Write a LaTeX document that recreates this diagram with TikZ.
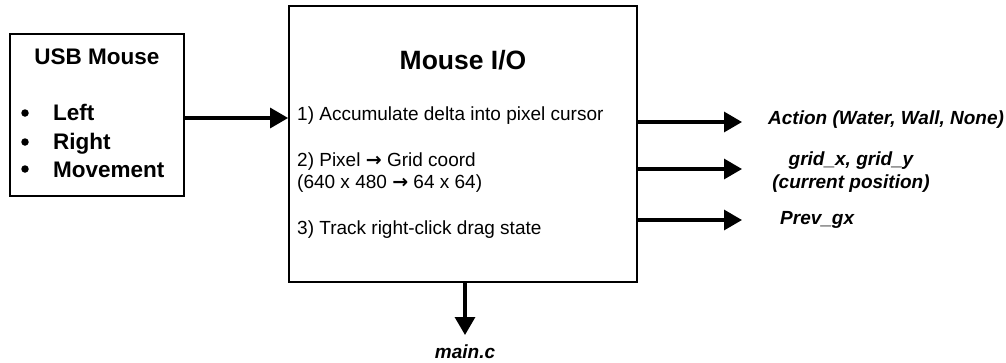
\documentclass[tikz,border=0pt]{standalone}
\usepackage{fontspec}
\setmainfont{Liberation Sans}
\usetikzlibrary{arrows.meta}
\begin{document}
\begin{tikzpicture}[x=1pt,y=-1pt,
  box/.style={draw,line width=1.8pt,inner sep=0pt},
  conn/.style={line width=3.2pt,-{Triangle[length=18pt,width=20pt]}},
  lbl/.style={font=\fontsize{19}{23}\selectfont\bfseries\itshape,inner sep=0pt},
  item/.style={font=\fontsize{19}{22}\selectfont,anchor=west,inner sep=0pt},
  bul/.style={font=\fontsize{22.5}{26}\selectfont\bfseries,anchor=base west,inner sep=0pt},
  dot/.style={circle,fill,inner sep=0pt,minimum size=7.5pt}]
\useasboundingbox (0,0) rectangle (1006,362);
\node[box,minimum width=174pt,minimum height=162pt] (usb) at (97,115) {};
\node[font=\fontsize{22.5}{26}\selectfont\bfseries] (usbt) at (97,57) {USB Mouse};
\node[dot] (b1) at (25,113) {};
\node[dot] (b2) at (25,142) {};
\node[dot] (b3) at (25,169) {};
\node[bul] (l1) at (53,120) {Left};
\node[bul] (l2) at (53,149) {Right};
\node[bul] (l3) at (53,177) {Movement};
\node[box,minimum width=348pt,minimum height=276pt] (io) at (463,144) {};
\node[font=\fontsize{26.5}{30}\selectfont\bfseries] (iot) at (463,60) {Mouse I/O};
\node[item] (s1) at (297,116) {1) Accumulate delta into pixel cursor};
\node[item] (s2) at (297,162) {2) Pixel {\fontspec{DejaVu Sans}\bfseries→} Grid coord};
\node[item] (s2b) at (297,184) {(640 x 480 {\fontspec{DejaVu Sans}\bfseries→} 64 x 64)};
\node[item] (s3) at (297,230) {3) Track right-click drag state};
\coordinate (o1) at (io.east |- 0,122);
\coordinate (o2) at (io.east |- 0,169);
\coordinate (o3) at (io.east |- 0,220);
\coordinate (e1) at (742,122);
\coordinate (e2) at (742,169);
\coordinate (e3) at (742,220);
\node[lbl,anchor=west] (a1) at (768,120) {Action (Water, Wall, None)};
\node[lbl,align=center] (a2) at (851,172) {grid\_x, grid\_y\\(current position)};
\node[lbl,anchor=west] (a3) at (780,220) {Prev\_gx};
\coordinate (d1) at (465,335);
\node[lbl] (mc) at (465,352) {main.c};
\draw[conn] (usb.east |- 0,118) -- (io.west |- 0,118);
\draw[conn] (o1) -- (e1);
\draw[conn] (o2) -- (e2);
\draw[conn] (o3) -- (e3);
\draw[conn] (io.south -| d1) -- (d1);
\end{tikzpicture}
\end{document}
